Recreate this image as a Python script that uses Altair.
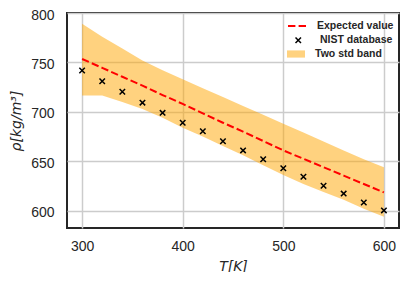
import altair as alt
import pandas as pd

temps = [300, 320, 340, 360, 380, 400, 420, 440, 460, 480, 500, 520, 540, 560, 580, 600]
nist = [741.8, 731.0, 720.3, 709.3, 699.0, 689.0, 680.3, 670.3, 661.0, 652.0, 643.0, 634.3, 625.3, 617.3, 608.3, 600.3]
expected = [753.5, 744.5, 735.5, 726.5, 717.0, 708.0, 698.5, 689.0, 680.0, 670.5, 661.0, 652.5, 644.0, 635.5, 627.0, 618.5]
upper = [789.0, 776.0, 764.0, 752.0, 742.0, 733.0, 724.0, 715.0, 706.0, 697.0, 688.0, 679.0, 670.0, 661.0, 652.0, 644.0]
lower = [716.5, 716.5, 710.0, 703.0, 694.0, 684.0, 675.0, 665.5, 656.0, 646.0, 636.0, 627.0, 619.0, 611.0, 602.0, 594.0]

series_names = ["Expected value", "NIST database", "Two std band"]
x_ticks = [300, 400, 500, 600]
y_ticks = [600, 650, 700, 750, 800]

df = pd.DataFrame({"T": temps, "nist": nist, "mean": expected, "upper": upper, "lower": lower})
df["line_name"] = series_names[0]
df["pt_name"] = series_names[1]
df["band_name"] = series_names[2]

grid_opts = dict(grid=True, gridColor="#cccccc", gridWidth=1.5, gridOpacity=1,
                 domain=False, ticks=False, tickSize=0)
x_axis = alt.Axis(values=x_ticks, title="T[K]", labelPadding=11, titlePadding=6, **grid_opts)
y_axis = alt.Axis(values=y_ticks, title="ρ[kg/m³]", labelPadding=13, titlePadding=7,
                  labelOffset=2, **grid_opts)
x_scale = alt.Scale(domain=[285, 615], nice=False, zero=False)
y_scale = alt.Scale(domain=[582.5, 800], nice=False, zero=False)

leg_common = dict(title=None, orient="none", labelFont="Liberation Sans", labelFontSize=10.5,
                  labelFontWeight="bold", labelColor="#262626")

band = alt.Chart(df).mark_area(opacity=0.5).encode(
    x=alt.X("T:Q", scale=x_scale, axis=x_axis),
    y=alt.Y("lower:Q", scale=y_scale, axis=y_axis),
    y2="upper:Q",
    fill=alt.Fill("band_name:N",
                  scale=alt.Scale(domain=[series_names[2]], range=["orange"]),
                  legend=alt.Legend(legendX=220, legendY=32, symbolType="M-1,-0.4H1V0.4H-1Z",
                                    symbolSize=324, symbolOpacity=0.5, symbolStrokeWidth=0,
                                    labelOffset=10, **leg_common)),
)

line = alt.Chart(df).mark_line(strokeDash=[7.4, 3.2], strokeWidth=2).encode(
    x=alt.X("T:Q", scale=x_scale, axis=x_axis),
    y=alt.Y("mean:Q", scale=y_scale, axis=y_axis),
    color=alt.Color("line_name:N",
                    scale=alt.Scale(domain=[series_names[0]], range=["red"]),
                    legend=alt.Legend(legendX=220, legendY=3, symbolType="stroke",
                                      symbolDash=[7.4, 3.2], symbolStrokeWidth=2,
                                      symbolSize=324, labelOffset=10, **leg_common)),
)

points = alt.Chart(df).mark_point(filled=False, color="black", strokeWidth=1.5, size=30, opacity=1).encode(
    x=alt.X("T:Q", scale=x_scale, axis=x_axis),
    y=alt.Y("nist:Q", scale=y_scale, axis=y_axis),
    shape=alt.Shape("pt_name:N",
                    scale=alt.Scale(domain=[series_names[1]], range=["M-1,-1L1,1M-1,1L1,-1"]),
                    legend=alt.Legend(legendX=226, legendY=22, symbolSize=30,
                                      symbolStrokeColor="black", symbolStrokeWidth=1.5,
                                      labelOffset=16.5, **leg_common)),
)

chart = alt.layer(band, line, points).properties(
    width=332, height=215,
    autosize=alt.AutoSizeParams(type="none"),
    padding={"left": 59, "top": 5, "right": 1, "bottom": 44},
    background="white",
).configure_view(
    stroke="#262626", strokeWidth=2
).configure_axis(
    labelFont="Liberation Sans", labelFontSize=14, labelColor="#262626",
    titleFont="DejaVu Sans", titleFontStyle="italic", titleFontWeight="normal",
    titleFontSize=14, titleColor="#262626",
)

chart.save("out.html", embed_options={"renderer": "svg", "actions": False})
